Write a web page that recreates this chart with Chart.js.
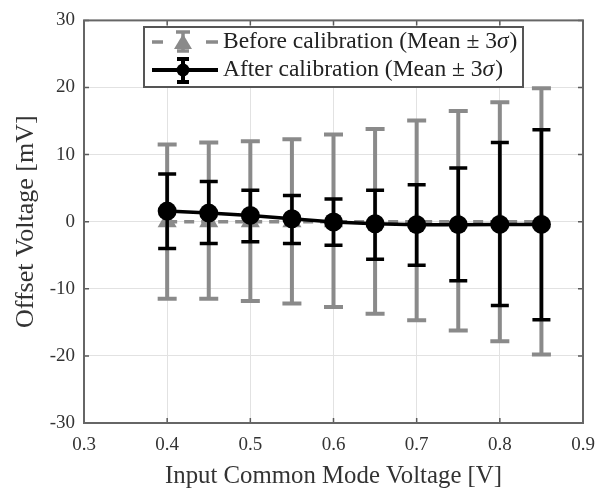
<!DOCTYPE html>
<html><head><meta charset="utf-8">
<script src="https://cdn.jsdelivr.net/npm/chart.js@4.4.1/dist/chart.umd.min.js"></script>
<style>html,body{margin:0;padding:0;background:#fff}#wrap{width:607px;height:492px;position:relative}</style>
</head><body><div id="wrap"><canvas id="c"></canvas></div>
<script>
const xValues = [0.40, 0.45, 0.50, 0.55, 0.60, 0.65, 0.70, 0.75, 0.80, 0.85];
const beforeMean  = [0, 0, 0, 0, 0, 0, 0, 0, 0, 0];
const beforeUpper = [11.5, 11.8, 12.0, 12.3, 13.0, 13.8, 15.1, 16.5, 17.8, 19.9];
const beforeLower = [-11.5, -11.5, -11.8, -12.2, -12.7, -13.7, -14.7, -16.2, -17.8, -19.8];
const afterMean  = [1.58, 1.28, 0.94, 0.45, -0.05, -0.30, -0.44, -0.44, -0.40, -0.40];
const afterUpper = [7.1, 6.0, 4.7, 3.9, 3.4, 4.7, 5.5, 8.0, 11.8, 13.7];
const afterLower = [-4.0, -3.25, -3.0, -3.25, -3.5, -5.6, -6.5, -8.8, -12.5, -14.6];
const xTickValues = [0.3, 0.4, 0.5, 0.6, 0.7, 0.8, 0.9];
const yTickValues = [-30, -20, -10, 0, 10, 20, 30];
const labelBefore = 'Before calibration (Mean \u00B1 3';
const labelAfter = 'After calibration (Mean \u00B1 3';
const xTitle = 'Input Common Mode Voltage [V]';
const yTitle = 'Offset Voltage [mV]';

const GRAY = 'rgb(138,138,138)';
const BLACK = '#000';
const SERIF = '"Liberation Serif", "Times New Roman", serif';

const errBars = [
  {upper: beforeUpper, lower: beforeLower, color: GRAY, lw: 4, cap: 19},
  {upper: afterUpper, lower: afterLower, color: BLACK, lw: 3.5, cap: 18}
];

const errorBarPlugin = {
  id: 'errbars',
  beforeDatasetDraw(chart, args) {
    const eb = errBars[args.index];
    if (!eb) return;
    const {ctx, scales: {x, y}} = chart;
    ctx.save();
    ctx.strokeStyle = eb.color;
    ctx.lineWidth = eb.lw;
    ctx.lineCap = 'butt';
    xValues.forEach((xv, i) => {
      const px = x.getPixelForValue(xv);
      const pt = y.getPixelForValue(eb.upper[i]);
      const pb = y.getPixelForValue(eb.lower[i]);
      ctx.beginPath();
      ctx.moveTo(px, pt); ctx.lineTo(px, pb);
      ctx.moveTo(px - eb.cap / 2, pt); ctx.lineTo(px + eb.cap / 2, pt);
      ctx.moveTo(px - eb.cap / 2, pb); ctx.lineTo(px + eb.cap / 2, pb);
      ctx.stroke();
    });
    ctx.restore();
  }
};

const frameLegendPlugin = {
  id: 'frameLegend',
  afterDraw(chart) {
    const {ctx, chartArea: a, scales: {x, y}} = chart;
    ctx.save();
    ctx.strokeStyle = '#5a5a5a';
    ctx.lineWidth = 1.5;
    const tl = 5;
    ctx.beginPath();
    xTickValues.forEach(v => {
      const px = x.getPixelForValue(v);
      ctx.moveTo(px, a.bottom); ctx.lineTo(px, a.bottom - tl);
      ctx.moveTo(px, a.top); ctx.lineTo(px, a.top + tl);
    });
    yTickValues.forEach(v => {
      const py = y.getPixelForValue(v);
      ctx.moveTo(a.left, py); ctx.lineTo(a.left + tl, py);
      ctx.moveTo(a.right, py); ctx.lineTo(a.right - tl, py);
    });
    ctx.stroke();
    ctx.strokeStyle = '#666';
    ctx.lineWidth = 2;
    ctx.strokeRect(a.left, a.top, a.right - a.left, a.bottom - a.top);

    // legend
    const bx = 144, by = 27, bw = 379, bh = 60;
    ctx.fillStyle = '#fff';
    ctx.fillRect(bx, by, bw, bh);
    ctx.strokeStyle = '#555';
    ctx.lineWidth = 2;
    ctx.strokeRect(bx, by, bw, bh);

    const r1 = 42, r2 = 70, mx = 183, lx0 = 152, lx1 = 218;
    ctx.strokeStyle = GRAY;
    ctx.lineWidth = 3.5;
    ctx.beginPath();
    ctx.moveTo(lx0, r1); ctx.lineTo(lx0 + 11, r1);
    ctx.moveTo(lx1 - 12, r1); ctx.lineTo(lx1, r1);
    ctx.stroke();
    ctx.lineWidth = 3.5;
    ctx.beginPath();
    ctx.moveTo(mx, r1 - 10); ctx.lineTo(mx, r1 + 9);
    ctx.moveTo(mx - 7, r1 - 10); ctx.lineTo(mx + 7, r1 - 10);
    ctx.moveTo(mx - 6, r1 + 9); ctx.lineTo(mx + 6, r1 + 9);
    ctx.stroke();
    ctx.fillStyle = GRAY;
    ctx.beginPath();
    ctx.moveTo(mx, r1 - 8); ctx.lineTo(mx + 9, r1 + 7); ctx.lineTo(mx - 9, r1 + 7);
    ctx.closePath(); ctx.fill();
    ctx.strokeStyle = BLACK;
    ctx.lineWidth = 4;
    ctx.beginPath();
    ctx.moveTo(lx0, r2); ctx.lineTo(lx1, r2);
    ctx.moveTo(mx, r2 - 11); ctx.lineTo(mx, r2 + 12);
    ctx.moveTo(mx - 6, r2 - 11); ctx.lineTo(mx + 6, r2 - 11);
    ctx.moveTo(mx - 6, r2 + 12); ctx.lineTo(mx + 6, r2 + 12);
    ctx.stroke();
    ctx.fillStyle = BLACK;
    ctx.beginPath(); ctx.arc(mx, r2, 6.5, 0, Math.PI * 2); ctx.fill();

    ctx.fillStyle = '#222';
    ctx.textBaseline = 'middle';
    ctx.textAlign = 'left';
    const fs = 23.5;
    const drawLabel = (txt, yy) => {
      ctx.font = fs + 'px ' + SERIF;
      ctx.fillText(txt, 223, yy);
      let w = ctx.measureText(txt).width;
      ctx.font = 'italic ' + fs + 'px ' + SERIF;
      ctx.fillText('\u03C3', 223 + w, yy);
      w += ctx.measureText('\u03C3').width;
      ctx.font = fs + 'px ' + SERIF;
      ctx.fillText(')', 223 + w + 1, yy);
    };
    drawLabel(labelBefore, r1);
    drawLabel(labelAfter, r2);
    ctx.restore();
  }
};

new Chart(document.getElementById('c'), {
  type: 'line',
  data: {
    datasets: [
      {
        label: labelBefore + '\u03C3)',
        order: 2,
        data: xValues.map((v, i) => ({x: v, y: beforeMean[i]})),
        borderColor: GRAY, backgroundColor: GRAY,
        borderWidth: 3.5, borderDash: [10, 7],
        pointStyle: 'triangle', pointRadius: 11, pointBorderWidth: 0,
        pointBackgroundColor: GRAY, tension: 0
      },
      {
        label: labelAfter + '\u03C3)',
        order: 1,
        data: xValues.map((v, i) => ({x: v, y: afterMean[i]})),
        borderColor: BLACK, backgroundColor: BLACK,
        borderWidth: 3.5,
        pointStyle: 'circle', pointRadius: 9.5, pointBorderWidth: 0,
        pointBackgroundColor: BLACK, tension: 0
      }
    ]
  },
  options: {
    responsive: true, maintainAspectRatio: false, animation: false,
    devicePixelRatio: 1,
    layout: {padding: {top: 17, right: 24, left: 0, bottom: 0}},
    plugins: {legend: {display: false}, tooltip: {enabled: false}},
    scales: {
      x: {
        type: 'linear', min: 0.3, max: 0.9,
        afterFit(s) { s.height = 69; },
        afterBuildTicks(s) { s.ticks = xTickValues.map(v => ({value: v})); },
        ticks: {
          callback: v => v.toFixed(1),
          font: {family: SERIF, size: 19}, color: '#333', padding: 11, maxRotation: 0
        },
        grid: {color: '#e2e2e2', lineWidth: 1, drawTicks: false},
        border: {display: false},
        title: {display: true, text: xTitle, font: {family: SERIF, size: 24.8}, color: '#333', padding: {top: 0, bottom: 1}}
      },
      y: {
        type: 'linear', min: -30, max: 30,
        afterFit(s) { s.width = 84; },
        afterBuildTicks(s) { s.ticks = yTickValues.map(v => ({value: v})); },
        ticks: {
          font: {family: SERIF, size: 19}, color: '#333', padding: 9
        },
        grid: {color: '#e2e2e2', lineWidth: 1, drawTicks: false},
        border: {display: false},
        title: {display: true, text: yTitle, font: {family: SERIF, size: 26}, color: '#333', padding: {top: 11, bottom: 0}}
      }
    }
  },
  plugins: [errorBarPlugin, frameLegendPlugin]
});
</script>
</body></html>
